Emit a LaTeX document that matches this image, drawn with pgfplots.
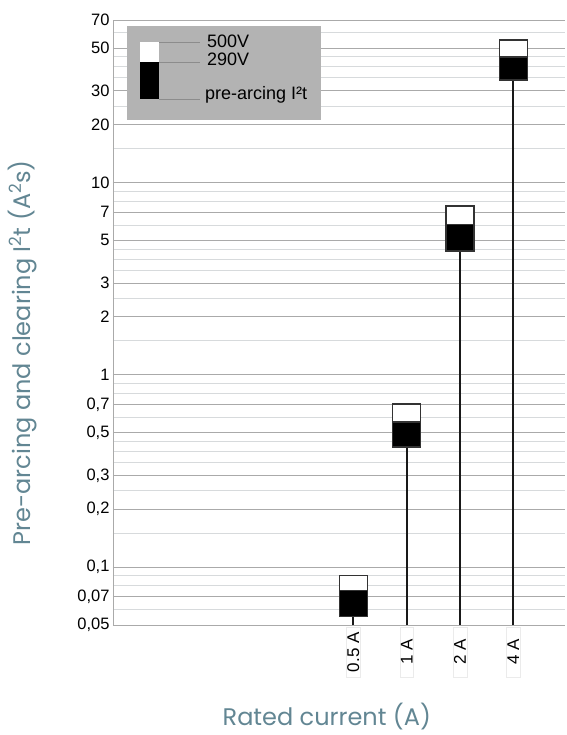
\documentclass[border=0pt]{standalone}
\usepackage{pgfplots}
\pgfplotsset{compat=1.18}
\usepackage{fontspec}
\setmainfont{Liberation Sans}
\newfontfamily\labfont{Poppins}
\definecolor{labcol}{RGB}{98,134,147}
\definecolor{midgrid}{RGB}{170,170,170}
\definecolor{lightgrid}{RGB}{215,218,220}
\definecolor{leggray}{RGB}{179,179,179}
\begin{document}
\begin{tikzpicture}
\begin{axis}[
  scale only axis,
  width=452pt, height=605pt,
  ymode=log, ymin=0.05, ymax=70,
  xmin=-4.51, xmax=3.97,
  axis y line*=left,
  axis x line*=bottom,
  x axis line style={draw=none},
  y axis line style={draw=midgrid, line width=0.8pt},
  major tick length=0pt, minor tick length=0pt,
  ytick={0.05,0.07,0.1,0.2,0.3,0.5,0.7,1,2,3,5,7,10,20,30,50,70},
  yticklabels={{0,05},{0,07},{0,1},{0,2},{0,3},{0,5},{0,7},1,2,3,5,7,10,20,30,50,70},
  minor ytick={0.06,0.08,0.09,0.15,0.25,0.35,0.4,0.45,0.6,0.8,0.9,1.5,2.5,3.5,4,4.5,6,8,9,15,25,35,40,45,60},
  extra y ticks={0.1,1,10},
  extra y tick labels={},
  extra y tick style={grid style={draw=black!80, line width=1pt}},
  ymajorgrids, yminorgrids,
  major grid style={draw=midgrid, line width=0.9pt},
  minor grid style={draw=lightgrid, line width=0.9pt},
  yticklabel style={font=\fontsize{16.5}{19}\selectfont, text=black},
  xtick={0,1,2,3},
  xticklabels={0.5 A,1 A,2 A,4 A},
  xticklabel shift=2pt,
  xticklabel style={font=\fontsize{17}{20}\selectfont, rotate=90, anchor=east,
     minimum width=50pt, align=center, draw=black!8, fill=white, inner sep=1pt},
  xlabel={Rated current (A)},
  xlabel style={font=\fontsize{24}{28}\selectfont\labfont, text=labcol,
     at={(axis description cs:0.473,-0.152)}, anchor=center},
  ylabel={Pre-arcing and clearing I\textsuperscript{2}t (A\textsuperscript{2}s)},
  ylabel style={font=\fontsize{24}{28}\selectfont\labfont, text=labcol,
     at={(axis description cs:-0.201,0.45)}, anchor=center, rotate=0},
]
% stems
\addplot[draw=black!90, line width=2pt] coordinates {(0,0.05) (0,0.0553)};
\addplot[draw=black!90, line width=2pt] coordinates {(1,0.05) (1,0.421)};
\addplot[draw=black!90, line width=2pt] coordinates {(2,0.05) (2,4.41)};
\addplot[draw=black!90, line width=2pt] coordinates {(3,0.05) (3,34.1)};
% pre-arcing to 290V (black)
\addplot[fill=black, draw=black!80, line width=1.3pt] coordinates {(-0.26,0.0553) (0.26,0.0553) (0.26,0.0755) (-0.26,0.0755)} -- cycle;
\addplot[fill=black, draw=black!80, line width=1.3pt] coordinates {(0.74,0.421) (1.26,0.421) (1.26,0.568) (0.74,0.568)} -- cycle;
\addplot[fill=black, draw=black!80, line width=1.3pt] coordinates {(1.74,4.41) (2.26,4.41) (2.26,6.07) (1.74,6.07)} -- cycle;
\addplot[fill=black, draw=black!80, line width=1.3pt] coordinates {(2.74,34.1) (3.26,34.1) (3.26,45.0) (2.74,45.0)} -- cycle;
% 290V to 500V (white)
\addplot[fill=white, draw=black!80, line width=1.3pt] coordinates {(-0.26,0.0755) (0.26,0.0755) (0.26,0.0903) (-0.26,0.0903)} -- cycle;
\addplot[fill=white, draw=black!80, line width=1.3pt] coordinates {(0.74,0.568) (1.26,0.568) (1.26,0.705) (0.74,0.705)} -- cycle;
\addplot[fill=white, draw=black!80, line width=1.3pt] coordinates {(1.74,6.07) (2.26,6.07) (2.26,7.55) (1.74,7.55)} -- cycle;
\addplot[fill=white, draw=black!80, line width=1.3pt] coordinates {(2.74,45.0) (3.26,45.0) (3.26,55.0) (2.74,55.0)} -- cycle;
\coordinate (tl) at (rel axis cs:0,1);
\coordinate (bl) at (rel axis cs:0,0);
\end{axis}
% legend
\fill[leggray] (tl) ++(14pt,-6pt) rectangle ++(194pt,-94pt);
\fill[white] (tl) ++(27pt,-22pt) rectangle ++(19pt,-20pt);
\fill[black] (tl) ++(27pt,-42pt) rectangle ++(19pt,-37pt);
\draw[black!45, line width=0.6pt] (tl) ++(46pt,-22pt) -- ++(41pt,0);
\draw[black!45, line width=0.6pt] (tl) ++(46pt,-42pt) -- ++(41pt,0);
\draw[black!45, line width=0.6pt] (tl) ++(46pt,-79pt) -- ++(41pt,0);
\node[anchor=base west, inner sep=0pt, font=\fontsize{18}{20}\selectfont] at ([shift={(94pt,-28pt)}]tl) {500V};
\node[anchor=base west, inner sep=0pt, font=\fontsize{18}{20}\selectfont] at ([shift={(94pt,-46pt)}]tl) {290V};
\node[anchor=base west, inner sep=0pt, font=\fontsize{18}{20}\selectfont] at ([shift={(92pt,-80pt)}]tl) {pre-arcing I²t};
\pgfresetboundingbox
\path (bl) ++(-113pt,-110pt) rectangle ++(566pt,735pt);
\end{tikzpicture}
\end{document}
